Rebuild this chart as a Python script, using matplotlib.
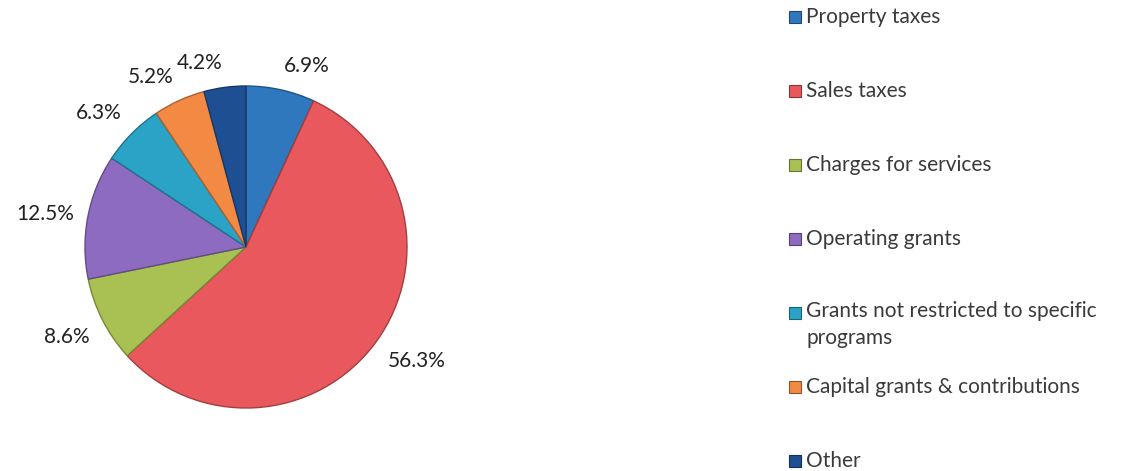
import numpy as np
import matplotlib.pyplot as plt
import matplotlib.colors as mcolors
from matplotlib.patches import Rectangle

categories = ['Property taxes', 'Sales taxes', 'Charges for services',
              'Operating grants', 'Grants not restricted to specific\nprograms',
              'Capital grants & contributions', 'Other']
shares = [6.9, 56.3, 8.6, 12.5, 6.3, 5.2, 4.2]
colors = ['#2f78bd', '#e9585c', '#a9c152', '#8d6bc1', '#2ba3c6', '#f38a44', '#1f4f93']

plt.rcParams['font.family'] = ['Lato', 'DejaVu Sans']

W, H = 1129, 471
fig = plt.figure(figsize=(W / 100, H / 100), dpi=100)

# pie centre and radius in pixels
cx, cy, r = 246, 247, 161
span = 1.25 * r
ax = fig.add_axes([(cx - span) / W, (H - cy - span) / H, 2 * span / W, 2 * span / H])


def darker(c, f=0.7):
    rgb = mcolors.to_rgb(c)
    return tuple(v * f for v in rgb)


wedges, texts, autotexts = ax.pie(
    shares, colors=colors, startangle=90, counterclock=False,
    autopct='%.1f%%', pctdistance=1.1,
    textprops={'fontsize': 15, 'color': '#222222'},
    wedgeprops={'linewidth': 1.0})
for w, c in zip(wedges, colors):
    w.set_edgecolor(darker(c))

# put each percentage just outside its wedge, aligned away from the pie
for w, t in zip(wedges, autotexts):
    mid = np.deg2rad((w.theta1 + w.theta2) / 2)
    dx, dy = np.cos(mid), np.sin(mid)
    t.set_position((1.09 * dx, 1.09 * dy))
    t.set_ha('left' if dx > 0.1 else 'right' if dx < -0.1 else 'center')
    t.set_va('bottom' if dy > 0.3 else 'top' if dy < -0.3 else 'center')

ax.set_xlim(-1.25, 1.25)
ax.set_ylim(-1.25, 1.25)
ax.set_aspect('equal')

# legend on the right, one slot per category
sq = 12
x0 = 789
y_first = 17
step = 74
for i, (name, c) in enumerate(zip(categories, colors)):
    y = y_first + i * step
    fig.patches.append(Rectangle((x0 / W, (H - y - sq / 2) / H), sq / W, sq / H,
                                 transform=fig.transFigure, facecolor=c,
                                 edgecolor=darker(c, 0.6), linewidth=0.8))
    if '\n' in name:
        fig.text((x0 + sq + 5) / W, (H - y + 12) / H, name, fontsize=15,
                 color='#3a3a3a', va='top', ha='left', linespacing=1.45)
    else:
        fig.text((x0 + sq + 5) / W, (H - y) / H, name, fontsize=15,
                 color='#3a3a3a', va='center', ha='left')

fig.savefig('out.png', dpi=100, facecolor='white')
